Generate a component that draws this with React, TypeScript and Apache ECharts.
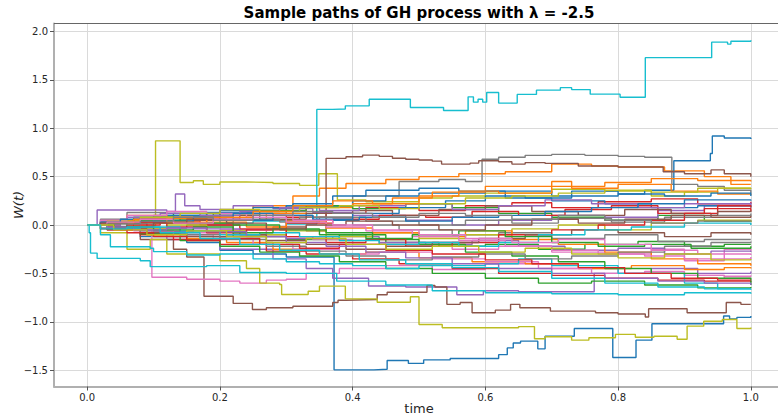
import React, { useEffect, useRef } from "react";
import * as echarts from "echarts";

const palette = ["#1f77b4", "#ff7f0e", "#2ca02c", "#d62728", "#9467bd", "#8c564b", "#e377c2", "#7f7f7f", "#bcbd22", "#17becf"];
const xTicks = [0, 0.2, 0.4, 0.6, 0.8, 1.0];
const yTicks = [-1.5, -1.0, -0.5, 0, 0.5, 1.0, 1.5, 2.0];
const titleText = "Sample paths of GH process with \u03bb = -2.5";
const xName = "time";
const yName = "W(t)";

const p00 = [[0,0],[0.03,-0.04],[0.08,-0.12],[0.15,-0.18],[0.2,-0.26],[0.25,-0.3],[0.3,-0.33],[0.372,-1.497],[0.432,-1.49],[0.452,-1.40],[0.484,-1.43],[0.507,-1.394],[0.547,-1.38],[0.62,-1.34],[0.633,-1.27],[0.642,-1.22],[0.653,-1.20],[0.679,-1.28],[0.69,-1.15],[0.734,-1.07],[0.792,-1.37],[0.827,-1.19],[0.851,-1.02],[0.959,-0.94],[0.968,-0.97],[0.979,-0.955],[1.0,-0.94]];
const p01 = [[0,0],[0.04,0.05],[0.1,0.08],[0.18,0.12],[0.25,0.2],[0.31,0.3],[0.35,0.38],[0.39,0.43],[0.45,0.47],[0.5,0.5],[0.56,0.53],[0.63,0.55],[0.7,0.63],[0.76,0.61],[0.8,0.6],[0.87,0.56],[0.93,0.5],[0.97,0.42],[1.0,0.42]];
const p02 = [[0,0],[0.04,-0.03],[0.09,-0.08],[0.15,-0.06],[0.22,-0.12],[0.3,-0.15],[0.38,-0.1],[0.45,-0.18],[0.53,-0.22],[0.6,-0.2],[0.68,-0.25],[0.75,-0.2],[0.83,-0.17],[0.9,-0.22],[0.96,-0.2],[1.0,-0.2]];
const p03 = [[0,0],[0.05,0.04],[0.1,0.02],[0.16,0.06],[0.23,0.1],[0.3,0.08],[0.36,0.12],[0.42,0.18],[0.5,0.15],[0.57,0.2],[0.64,0.23],[0.7,0.18],[0.77,0.24],[0.85,0.27],[0.92,0.22],[1.0,0.24]];
const p04 = [[0,0],[0.05,-0.05],[0.12,-0.15],[0.2,-0.25],[0.28,-0.35],[0.33,-0.45],[0.37,-0.55],[0.424,-0.63],[0.48,-0.64],[0.557,-0.72],[0.597,-0.68],[0.65,-0.69],[0.764,-0.5],[0.85,-0.45],[0.92,-0.5],[1.0,-0.48]];
const p05 = [[0,0],[0.03,-0.05],[0.08,-0.15],[0.13,-0.25],[0.15,-0.33],[0.176,-0.736],[0.22,-0.81],[0.249,-0.873],[0.27,-0.855],[0.31,-0.84],[0.37,-0.80],[0.378,-0.777],[0.39,-0.77],[0.437,-0.72],[0.452,-0.695],[0.512,-0.625],[0.524,-0.64],[0.542,-0.82],[0.562,-0.80],[0.58,-0.907],[0.615,-0.88],[0.638,-0.82],[0.652,-0.855],[0.698,-0.89],[0.766,-0.907],[0.8,-0.92],[0.841,-0.95],[0.846,-0.866],[0.904,-0.907],[0.963,-0.80],[0.985,-0.82],[1.0,-0.82]];
const p06 = [[0,0],[0.03,-0.02],[0.06,0.01],[0.0975,-0.54],[0.15,-0.56],[0.2,-0.58],[0.23,-0.6],[0.27,-0.57],[0.3,-0.56],[0.33,-0.5],[0.38,-0.45],[0.45,-0.42],[0.52,-0.46],[0.6,-0.4],[0.7,-0.45],[0.8,-0.5],[0.9,-0.52],[0.96,-0.55],[1.0,-0.55]];
const p07 = [[0,0],[0.04,0.03],[0.1,0.08],[0.2,0.12],[0.3,0.2],[0.4,0.3],[0.47,0.45],[0.53,0.47],[0.57,0.45],[0.595,0.68],[0.62,0.70],[0.66,0.72],[0.7,0.73],[0.75,0.72],[0.8,0.71],[0.84,0.70],[0.881,0.42],[0.92,0.4],[0.96,0.36],[1.0,0.33]];
const p08 = [[0,0],[0.03,0.02],[0.06,-0.01],[0.103,0.87],[0.14,0.44],[0.16,0.457],[0.175,0.42],[0.2,0.445],[0.24,0.44],[0.28,0.43],[0.32,0.41],[0.349,0.53],[0.377,0.26],[0.42,0.24],[0.5,0.28],[0.55,0.3],[0.6,0.33],[0.7,0.37],[0.78,0.35],[0.85,0.3],[0.9,0.34],[0.95,0.38],[1.0,0.38]];
const p09 = [[0,0],[0.03,-0.02],[0.08,0.03],[0.15,0.05],[0.2,0.02],[0.25,0.04],[0.3,0.01],[0.346,1.195],[0.37,1.2],[0.389,1.232],[0.425,1.30],[0.487,1.215],[0.537,1.184],[0.574,1.325],[0.582,1.27],[0.589,1.30],[0.596,1.27],[0.602,1.37],[0.62,1.26],[0.648,1.35],[0.677,1.394],[0.713,1.42],[0.73,1.40],[0.758,1.353],[0.803,1.32],[0.841,1.73],[0.941,1.89],[0.965,1.87],[0.97,1.9],[1.0,1.91]];
const p10 = [[0,0],[0.04,0.04],[0.1,0.1],[0.2,0.15],[0.3,0.2],[0.4,0.25],[0.45,0.3],[0.5,0.33],[0.6,0.35],[0.7,0.3],[0.8,0.32],[0.84,0.36],[0.884,0.664],[0.939,0.74],[0.942,0.92],[0.96,0.90],[1.0,0.89]];
const p11 = [[0,0],[0.03,0.05],[0.08,0.02],[0.14,0.08],[0.2,0.05],[0.27,0.12],[0.33,0.18],[0.4,0.22],[0.46,0.28],[0.52,0.34],[0.6,0.4],[0.7,0.45],[0.73,0.38],[0.8,0.42],[0.88,0.35],[0.95,0.32],[1.0,0.31]];
const p12 = [[0,0],[0.02,0.03],[0.07,0.08],[0.13,0.12],[0.19,0.1],[0.26,0.15],[0.33,0.2],[0.4,0.17],[0.48,0.22],[0.55,0.18],[0.62,0.12],[0.7,0.08],[0.78,0.05],[0.86,0.1],[0.93,0.04],[1.0,0.03]];
const p13 = [[0,0],[0.03,-0.05],[0.08,-0.1],[0.13,-0.15],[0.2,-0.2],[0.27,-0.27],[0.33,-0.3],[0.4,-0.35],[0.47,-0.4],[0.55,-0.45],[0.62,-0.5],[0.7,-0.52],[0.78,-0.55],[0.86,-0.57],[0.93,-0.58],[1.0,-0.59]];
const p14 = [[0,0],[0.015,0.155],[0.12,0.14],[0.133,0.32],[0.147,0.2],[0.17,0.16],[0.22,0.2],[0.28,0.17],[0.34,0.13],[0.4,0.1],[0.48,0.05],[0.55,0.0],[0.62,0.05],[0.7,0.1],[0.78,0.08],[0.86,0.15],[0.93,0.2],[1.0,0.23]];
const p15 = [[0,0],[0.04,0.02],[0.09,-0.03],[0.15,0.0],[0.22,-0.05],[0.28,-0.02],[0.33,-0.06],[0.36,0.689],[0.39,0.705],[0.415,0.723],[0.44,0.71],[0.46,0.69],[0.48,0.68],[0.5,0.672],[0.52,0.66],[0.534,0.63],[0.577,0.64],[0.59,0.665],[0.62,0.654],[0.64,0.63],[0.66,0.645],[0.69,0.637],[0.74,0.61],[0.8,0.6],[0.868,0.55],[0.9,0.53],[0.94,0.57],[0.96,0.53],[1.0,0.5]];
const p16 = [[0,0],[0.03,0.02],[0.08,-0.04],[0.14,-0.08],[0.2,-0.05],[0.27,-0.12],[0.34,-0.15],[0.4,-0.2],[0.48,-0.18],[0.55,-0.25],[0.62,-0.22],[0.7,-0.28],[0.78,-0.3],[0.85,-0.25],[0.9,-0.37],[0.96,-0.25],[1.0,-0.27]];
const p17 = [[0,0],[0.02,0.06],[0.06,0.13],[0.12,0.12],[0.18,0.1],[0.25,0.05],[0.32,0.08],[0.4,0.0],[0.47,-0.05],[0.55,-0.1],[0.62,-0.08],[0.7,-0.14],[0.78,-0.1],[0.86,-0.17],[0.93,-0.15],[1.0,-0.15]];
const p18 = [[0,0],[0.02,-0.08],[0.06,-0.25],[0.095,-0.15],[0.12,-0.3],[0.2,-0.37],[0.24,-0.45],[0.26,-0.6],[0.29,-0.615],[0.293,-0.718],[0.333,-0.684],[0.35,-0.632],[0.389,-0.763],[0.437,-0.798],[0.487,-0.742],[0.5,-1.028],[0.535,-1.062],[0.65,-1.05],[0.674,-1.176],[0.69,-1.155],[0.73,-1.19],[0.756,-1.165],[0.796,-1.13],[0.826,-1.16],[0.854,-1.15],[0.889,-1.18],[0.904,-1.045],[0.929,-0.994],[0.957,-0.976],[0.979,-1.07],[1.0,-1.06]];
const p19 = [[0,0],[0.003,-0.08],[0.005,-0.29],[0.015,-0.345],[0.08,-0.37],[0.095,-0.43],[0.18,-0.42],[0.23,-0.49],[0.3,-0.5],[0.376,-0.58],[0.45,-0.62],[0.52,-0.68],[0.6,-0.7],[0.7,-0.71],[0.8,-0.72],[0.9,-0.7],[1.0,-0.71]];
const p20 = [[0,0],[0.03,0.03],[0.07,0.06],[0.12,0.1],[0.18,0.13],[0.25,0.18],[0.31,0.22],[0.37,0.3],[0.42,0.36],[0.5,0.38],[0.56,0.35],[0.63,0.28],[0.7,0.25],[0.78,0.22],[0.85,0.18],[0.92,0.2],[1.0,0.18]];
const p21 = [[0,0],[0.04,-0.05],[0.09,-0.1],[0.15,-0.14],[0.21,-0.18],[0.28,-0.25],[0.35,-0.3],[0.42,-0.28],[0.5,-0.34],[0.58,-0.38],[0.66,-0.4],[0.74,-0.45],[0.82,-0.42],[0.9,-0.46],[0.96,-0.44],[1.0,-0.45]];
const p22 = [[0,0],[0.03,-0.04],[0.08,-0.09],[0.14,-0.16],[0.2,-0.22],[0.26,-0.28],[0.32,-0.32],[0.38,-0.38],[0.45,-0.45],[0.52,-0.5],[0.6,-0.55],[0.68,-0.6],[0.76,-0.58],[0.84,-0.62],[0.92,-0.65],[1.0,-0.64]];
const p23 = [[0,0],[0.02,0.02],[0.06,0.0],[0.11,0.04],[0.17,0.0],[0.23,-0.04],[0.3,0.02],[0.37,0.06],[0.44,0.1],[0.51,0.08],[0.58,0.14],[0.65,0.1],[0.72,0.16],[0.79,0.2],[0.86,0.12],[0.93,0.17],[1.0,0.14]];
const p24 = [[0,0],[0.04,-0.03],[0.1,-0.07],[0.16,-0.04],[0.23,-0.1],[0.3,-0.14],[0.37,-0.12],[0.44,-0.18],[0.51,-0.2],[0.58,-0.16],[0.65,-0.22],[0.72,-0.26],[0.8,-0.24],[0.87,-0.3],[0.94,-0.27],[1.0,-0.28]];
const p25 = [[0,0],[0.03,0.03],[0.08,0.07],[0.14,0.05],[0.2,0.1],[0.26,0.06],[0.33,0.12],[0.4,0.15],[0.46,0.1],[0.53,0.16],[0.6,0.2],[0.67,0.14],[0.74,0.1],[0.81,0.16],[0.88,0.12],[0.94,0.08],[1.0,0.1]];
const p26 = [[0,0],[0.03,-0.02],[0.07,-0.06],[0.13,-0.1],[0.19,-0.14],[0.25,-0.2],[0.31,-0.25],[0.38,-0.3],[0.44,-0.28],[0.52,-0.35],[0.6,-0.38],[0.68,-0.45],[0.76,-0.5],[0.84,-0.48],[0.9,-0.52],[0.96,-0.53],[1.0,-0.52]];
const p27 = [[0,0],[0.02,-0.03],[0.06,0.02],[0.1,0.05],[0.16,0.02],[0.22,0.06],[0.29,0.03],[0.35,0.08],[0.42,0.04],[0.5,0.0],[0.57,0.05],[0.64,0.02],[0.71,0.07],[0.79,0.03],[0.87,0.08],[0.94,0.1],[1.0,0.12]];
const p28 = [[0,0],[0.03,0.02],[0.07,-0.04],[0.12,0.0],[0.18,-0.06],[0.24,-0.1],[0.3,-0.06],[0.36,-0.12],[0.43,-0.08],[0.5,-0.14],[0.57,-0.1],[0.64,-0.04],[0.71,0.0],[0.78,-0.05],[0.85,0.02],[0.92,0.05],[1.0,0.03]];
const p29 = [[0,0],[0.02,-0.1],[0.035,-0.224],[0.095,-0.24],[0.1,-0.275],[0.15,-0.31],[0.2,-0.3],[0.25,-0.35],[0.3,-0.38],[0.35,-0.4],[0.4,-0.42],[0.45,-0.45],[0.5,-0.42],[0.6,-0.4],[0.65,-0.35],[0.7,-0.42],[0.8,-0.5],[0.9,-0.6],[0.95,-0.66],[1.0,-0.66]];
const p30 = [[0,0],[0.04,-0.02],[0.1,0.03],[0.16,0.08],[0.22,0.05],[0.28,0.1],[0.34,0.06],[0.4,0.12],[0.47,0.18],[0.54,0.25],[0.6,0.3],[0.66,0.28],[0.73,0.35],[0.8,0.32],[0.87,0.3],[0.94,0.33],[1.0,0.3]];
const p31 = [[0,0],[0.02,0.04],[0.06,0.1],[0.12,0.07],[0.18,0.03],[0.24,-0.02],[0.3,0.04],[0.36,-0.03],[0.43,-0.08],[0.5,-0.12],[0.57,-0.06],[0.64,-0.15],[0.71,-0.2],[0.78,-0.28],[0.85,-0.35],[0.92,-0.4],[1.0,-0.42]];
const p32 = [[0,0],[0.03,0.02],[0.08,0.05],[0.15,0.02],[0.22,0.0],[0.29,-0.05],[0.36,-0.08],[0.43,-0.15],[0.5,-0.2],[0.57,-0.28],[0.64,-0.32],[0.71,-0.38],[0.78,-0.45],[0.85,-0.5],[0.92,-0.55],[1.0,-0.62]];
const p33 = [[0,0],[0.03,-0.02],[0.07,0.03],[0.12,-0.02],[0.18,-0.08],[0.24,-0.05],[0.3,-0.12],[0.36,-0.18],[0.42,-0.15],[0.48,-0.22],[0.55,-0.18],[0.62,-0.1],[0.7,-0.05],[0.77,0.0],[0.84,0.05],[0.9,0.12],[0.95,0.2],[1.0,0.18]];
const p34 = [[0,0],[0.02,0.04],[0.06,0.08],[0.11,0.12],[0.17,0.1],[0.23,0.14],[0.29,0.18],[0.35,0.15],[0.41,0.2],[0.48,0.22],[0.55,0.16],[0.62,0.2],[0.69,0.26],[0.76,0.22],[0.83,0.18],[0.9,0.22],[1.0,0.23]];
const p35 = [[0,0],[0.04,-0.04],[0.09,-0.08],[0.15,-0.12],[0.21,-0.1],[0.27,-0.16],[0.33,-0.2],[0.39,-0.25],[0.45,-0.22],[0.52,-0.18],[0.59,-0.14],[0.66,-0.1],[0.73,-0.05],[0.8,-0.08],[0.87,-0.12],[0.94,-0.08],[1.0,-0.1]];
const p36 = [[0,0],[0.02,0.05],[0.06,0.1],[0.12,0.14],[0.18,0.12],[0.24,0.08],[0.3,0.03],[0.36,-0.02],[0.42,-0.06],[0.49,-0.12],[0.56,-0.16],[0.63,-0.22],[0.7,-0.26],[0.77,-0.3],[0.84,-0.32],[0.9,-0.35],[1.0,-0.33]];
const p37 = [[0,0],[0.03,-0.03],[0.08,-0.06],[0.14,-0.1],[0.2,-0.15],[0.27,-0.22],[0.33,-0.27],[0.39,-0.32],[0.45,-0.36],[0.52,-0.33],[0.59,-0.3],[0.66,-0.35],[0.73,-0.32],[0.8,-0.28],[0.87,-0.22],[0.94,-0.18],[1.0,-0.17]];
const p38 = [[0,0],[0.03,0.04],[0.08,0.08],[0.14,0.12],[0.2,0.16],[0.26,0.14],[0.32,0.18],[0.38,0.2],[0.44,0.17],[0.5,0.22],[0.57,0.28],[0.64,0.3],[0.71,0.33],[0.78,0.36],[0.85,0.34],[0.92,0.38],[1.0,0.37]];
const p39 = [[0,0],[0.03,-0.03],[0.08,-0.02],[0.14,-0.06],[0.2,-0.1],[0.26,-0.08],[0.32,-0.12],[0.38,-0.16],[0.44,-0.2],[0.5,-0.18],[0.56,-0.22],[0.62,-0.18],[0.68,-0.1],[0.75,-0.05],[0.82,-0.02],[0.9,0.02],[1.0,0.0]];
const p40 = [[0,0],[0.02,0.03],[0.05,0.06],[0.1,0.04],[0.16,0.08],[0.22,0.12],[0.28,0.1],[0.34,0.05],[0.41,0.08],[0.48,0.04],[0.55,0.08],[0.62,0.1],[0.69,0.14],[0.76,0.18],[0.83,0.22],[0.9,0.26],[1.0,0.25]];
const p41 = [[0,0],[0.03,0.02],[0.07,0.06],[0.12,0.03],[0.18,0.08],[0.25,0.14],[0.31,0.2],[0.37,0.25],[0.43,0.22],[0.5,0.3],[0.56,0.35],[0.62,0.33],[0.7,0.4],[0.78,0.44],[0.85,0.48],[0.92,0.46],[1.0,0.45]];
const p42 = [[0,0],[0.04,-0.02],[0.1,-0.05],[0.16,-0.02],[0.22,-0.08],[0.28,-0.04],[0.35,-0.1],[0.42,-0.14],[0.49,-0.1],[0.56,-0.06],[0.63,-0.12],[0.7,-0.18],[0.77,-0.22],[0.84,-0.2],[0.91,-0.24],[1.0,-0.22]];
const p43 = [[0,0],[0.02,-0.04],[0.06,-0.08],[0.1,-0.12],[0.15,-0.16],[0.2,-0.14],[0.26,-0.2],[0.32,-0.24],[0.38,-0.2],[0.45,-0.26],[0.52,-0.3],[0.6,-0.36],[0.67,-0.4],[0.74,-0.44],[0.81,-0.5],[0.88,-0.55],[0.95,-0.57],[1.0,-0.57]];
const p44 = [[0,0],[0.03,-0.02],[0.07,-0.05],[0.12,-0.03],[0.18,-0.07],[0.24,-0.12],[0.3,-0.18],[0.36,-0.22],[0.42,-0.28],[0.48,-0.34],[0.55,-0.4],[0.62,-0.45],[0.7,-0.5],[0.78,-0.55],[0.86,-0.58],[0.93,-0.6],[1.0,-0.62]];
const p45 = [[0,0],[0.02,0.02],[0.06,-0.02],[0.1,0.02],[0.15,0.06],[0.21,0.02],[0.27,-0.04],[0.33,0.0],[0.39,0.04],[0.46,0.0],[0.53,-0.05],[0.6,0.0],[0.67,0.06],[0.74,0.02],[0.81,0.06],[0.88,0.1],[0.95,0.14],[1.0,0.15]];
const p46 = [[0,0],[0.03,0.03],[0.08,0.06],[0.13,0.02],[0.19,0.06],[0.25,0.1],[0.31,0.05],[0.37,0.0],[0.43,-0.05],[0.5,-0.1],[0.57,-0.14],[0.64,-0.18],[0.71,-0.15],[0.78,-0.2],[0.85,-0.26],[0.92,-0.3],[1.0,-0.31]];
const p47 = [[0,0],[0.03,0.01],[0.08,0.04],[0.13,0.08],[0.19,0.05],[0.25,0.1],[0.31,0.14],[0.37,0.12],[0.43,0.08],[0.5,0.12],[0.57,0.1],[0.64,0.06],[0.71,0.1],[0.78,0.05],[0.85,0.02],[0.92,0.04],[1.0,0.05]];
const p48 = [[0,0],[0.04,-0.05],[0.09,-0.1],[0.15,-0.06],[0.21,-0.12],[0.27,-0.18],[0.33,-0.14],[0.39,-0.2],[0.45,-0.25],[0.52,-0.22],[0.59,-0.28],[0.66,-0.24],[0.73,-0.3],[0.8,-0.34],[0.87,-0.3],[0.94,-0.36],[1.0,-0.35]];
const p49 = [[0,0],[0.02,-0.04],[0.06,-0.02],[0.11,-0.08],[0.17,-0.14],[0.23,-0.2],[0.29,-0.26],[0.35,-0.3],[0.41,-0.36],[0.48,-0.4],[0.55,-0.44],[0.62,-0.48],[0.7,-0.55],[0.78,-0.6],[0.86,-0.64],[0.93,-0.66],[1.0,-0.67]];

const paths = [p00,p01,p02,p03,p04,p05,p06,p07,p08,p09,p10,p11,p12,p13,p14,p15,p16,p17,p18,p19,p20,p21,p22,p23,p24,p25,p26,p27,p28,p29,p30,p31,p32,p33,p34,p35,p36,p37,p38,p39,p40,p41,p42,p43,p44,p45,p46,p47,p48,p49];

const FONT = "DejaVu Sans";
const fmt = (v: number) => (v < 0 ? "\u2212" : "") + Math.abs(v).toFixed(1);

export default function App() {
  const ref = useRef<HTMLDivElement>(null);
  useEffect(() => {
    if (!ref.current) return;
    const chart = echarts.init(ref.current, null, { renderer: "svg" });
    const gridLeft = 54, gridTop = 23.5, gridW = 730, gridH = 363;
    const series: any[] = paths.map((p, i) => ({
      type: "line",
      data: p,
      step: "end",
      showSymbol: false,
      silent: true,
      z: 3,
      lineStyle: { width: 1.4, color: palette[i % 10] },
      itemStyle: { color: palette[i % 10] },
    }));
    chart.setOption({
      animation: false,
      backgroundColor: "#ffffff",
      grid: { left: gridLeft, top: gridTop, width: gridW, height: gridH, containLabel: false, outerBoundsMode: "none" },
      xAxis: {
        type: "value",
        min: -0.05,
        max: 1.05,
        axisLine: { show: true, onZero: false, lineStyle: { color: "#b0b0b0", width: 2 } },
        axisTick: { show: true, customValues: xTicks, length: 4, lineStyle: { color: "#555" } },
        axisLabel: { customValues: xTicks, formatter: (v: number) => fmt(v), fontFamily: FONT, fontSize: 10, color: "#262626", margin: 6 },
        splitLine: { show: true, lineStyle: { color: "#dadada", width: 1 } },
      },
      yAxis: {
        type: "value",
        min: -1.669,
        max: 2.083,
        axisLine: { show: true, onZero: false, lineStyle: { color: "#b0b0b0", width: 2 } },
        axisTick: { show: true, customValues: yTicks, length: 4, lineStyle: { color: "#555" } },
        axisLabel: { customValues: yTicks, formatter: (v: number) => fmt(v), fontFamily: FONT, fontSize: 10, color: "#262626", margin: 6 },
        splitLine: { show: true, lineStyle: { color: "#dadada", width: 1 } },
      },
      graphic: [
        { type: "line", shape: { x1: gridLeft, y1: gridTop, x2: 778, y2: gridTop }, style: { stroke: "#666", lineWidth: 1 }, z: 10 },
        { type: "text", x: 419, y: 13, style: { text: titleText, font: `bold 15px '${FONT}'`, fill: "#000", textAlign: "center", textVerticalAlign: "middle" }, z: 10 },
        { type: "text", x: 419, y: 408, style: { text: xName, font: `13px '${FONT}'`, fill: "#262626", textAlign: "center", textVerticalAlign: "middle" }, z: 10 },
        { type: "text", x: 18, y: 205, rotation: Math.PI / 2, style: { text: yName, font: `italic 13px '${FONT}'`, fill: "#262626", textAlign: "center", textVerticalAlign: "middle" }, z: 10 },
      ],
      series,
    });
    return () => chart.dispose();
  }, []);
  return <div ref={ref} style={{ position: "fixed", left: 0, top: 0, width: 778, height: 419 }} />;
}
